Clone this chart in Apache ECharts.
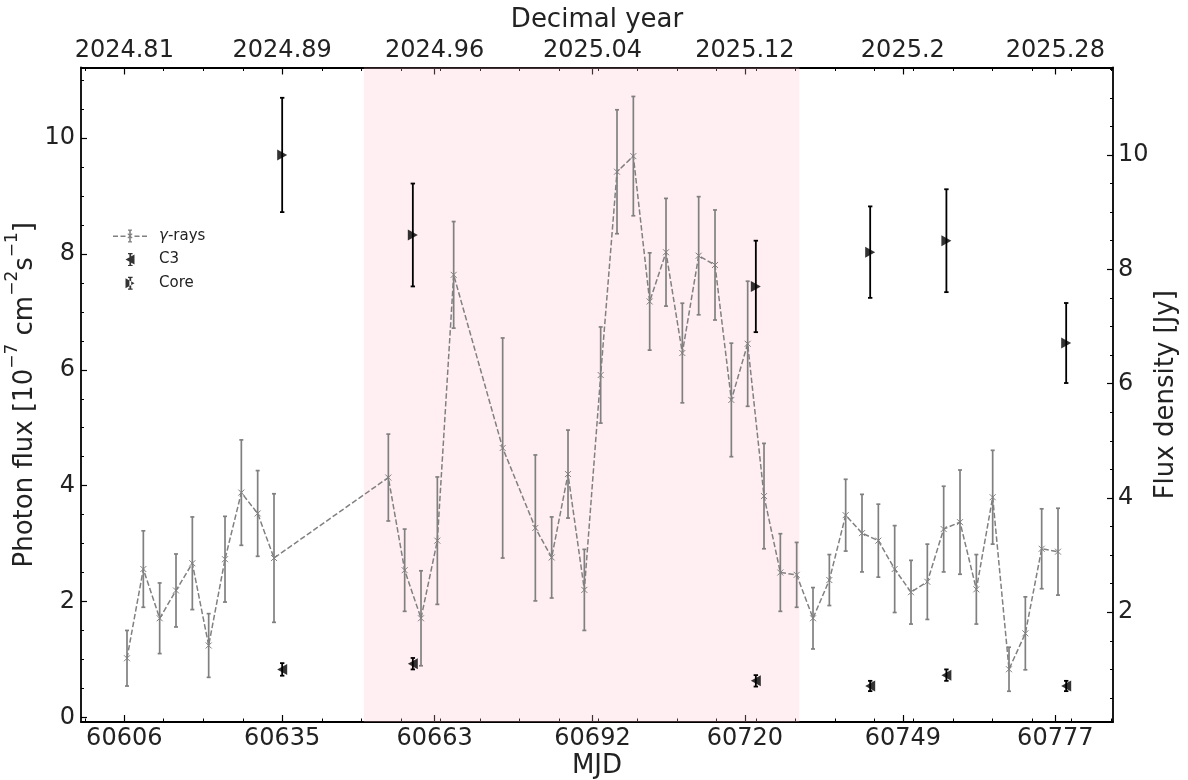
<!DOCTYPE html>
<html>
<head>
<meta charset="utf-8">
<script src="https://cdn.jsdelivr.net/npm/echarts@6/dist/echarts.min.js"></script>
<style>
  html, body { margin: 0; padding: 0; background: #fff; }
  #chart { width: 1188px; height: 780px; }
</style>
</head>
<body>
<div id="chart"></div>
<script>
// ---------------- data ----------------
// gamma-ray light curve (MJD, photon flux 1e-7 cm^-2 s^-1, symmetric error)
const gammaMJD = [60606.5, 60609.5, 60612.5, 60615.5, 60618.5, 60621.5, 60624.5, 60627.5, 60630.5, 60633.5,
  60654.5, 60657.5, 60660.5, 60663.5, 60666.5, 60675.5,
  60681.5, 60684.5, 60687.5, 60690.5, 60693.5, 60696.5, 60699.5, 60702.5, 60705.5, 60708.5,
  60711.5, 60714.5, 60717.5, 60720.5, 60723.5, 60726.5, 60729.5, 60732.5, 60735.5, 60738.5,
  60741.5, 60744.5, 60747.5, 60750.5, 60753.5, 60756.5, 60759.5, 60762.5, 60765.5, 60768.5,
  60771.5, 60774.5, 60777.5];
const gammaFlux = [1.02, 2.56, 1.71, 2.19, 2.66, 1.24, 2.73, 3.88, 3.52, 2.75,
  4.14, 2.54, 1.71, 3.05, 7.64, 4.65,
  3.27, 2.76, 4.20, 2.20, 5.91, 9.42, 9.69, 7.18, 8.03, 6.29,
  7.97, 7.81, 5.48, 6.45, 3.82, 2.50, 2.46, 1.71, 2.37, 3.49,
  3.18, 3.05, 2.56, 2.16, 2.34, 3.25, 3.37, 2.21, 3.80, 0.83,
  1.45, 2.91, 2.86];
const gammaErr = [0.48, 0.66, 0.61, 0.63, 0.80, 0.55, 0.74, 0.91, 0.74, 1.11,
  0.75, 0.71, 0.82, 1.10, 0.92, 1.90,
  1.26, 0.70, 0.76, 0.70, 0.83, 1.07, 1.03, 0.84, 0.93, 0.86,
  1.02, 0.95, 0.98, 1.08, 0.91, 0.67, 0.56, 0.53, 0.44, 0.62,
  0.67, 0.63, 0.75, 0.55, 0.65, 0.74, 0.90, 0.60, 0.81, 0.38,
  0.63, 0.69, 0.75];

// radio (VLBI) epochs and flux densities [Jy]
const radioMJD = [60635.0, 60659.0, 60722.0, 60743.0, 60757.0, 60779.0];
const c3Flux = [1.00, 1.10, 0.80, 0.71, 0.90, 0.71];
const c3Err = [0.11, 0.10, 0.10, 0.09, 0.10, 0.09];
const coreFlux = [10.0, 8.60, 7.70, 8.30, 8.50, 6.71];
const coreErr = [1.0, 0.9, 0.8, 0.8, 0.9, 0.7];

// shaded flare window (MJD)
const flareWindow = [60650, 60730];

// ticks
const mjdMajor = [60606, 60635, 60663, 60692, 60720, 60749, 60777];
const decYearLabels = ['2024.81', '2024.89', '2024.96', '2025.04', '2025.12', '2025.2', '2025.28'];
const mjdMinor = [60598.8, 60606.0, 60613.2, 60620.5, 60627.8, 60635.0, 60642.3, 60649.5, 60656.8,
  60664.0, 60671.3, 60678.5, 60685.8, 60693.0, 60700.3, 60707.5, 60714.8, 60722.0, 60729.3,
  60736.5, 60743.8, 60751.0, 60758.3, 60765.5, 60772.8, 60780.0, 60787.3];
const photonMajor = [0, 2, 4, 6, 8, 10];
const photonMinor = [0, 0.5, 1, 1.5, 2, 2.5, 3, 3.5, 4, 4.5, 5, 5.5, 6, 6.5, 7, 7.5, 8, 8.5, 9, 9.5, 10, 10.5, 11];
const jyMajor = [2, 4, 6, 8, 10];
const jyMinor = [0.5, 1, 1.5, 2, 2.5, 3, 3.5, 4, 4.5, 5, 5.5, 6, 6.5, 7, 7.5, 8, 8.5, 9, 9.5, 10, 10.5, 11, 11.5];

// ---------------- chart ----------------
const FONT = 'DejaVu Sans';
const TXT = '#222';
const GRAY = '#808080';
const X_MIN = 60598.05, X_MAX = 60787.6;
const YL_MIN = -0.081, YL_MAX = 11.22;
const YR_MIN = 0.080, YR_MAX = 11.53;

function tickAxis(extra) {
  return Object.assign({
    type: 'value',
    splitLine: { show: false },
    axisLine: { show: false, onZero: false },
    axisLabel: { show: false },
    nameMoveOverlap: false
  }, extra);
}

const axisLineStyle = { show: true, onZero: false, lineStyle: { color: '#000', width: 1.8 } };
const majorTick = (vals, len) => ({ show: true, inside: true, length: len, customValues: vals, lineStyle: { color: '#000', width: 1.2 } });
const minorTick = (vals, len) => ({ show: true, inside: true, length: len, customValues: vals, lineStyle: { color: '#000', width: 1 } });
const labelBase = { show: true, color: TXT, fontSize: 24, fontFamily: FONT };

const xAxes = [
  tickAxis({
    position: 'bottom', min: X_MIN, max: X_MAX,
    axisLine: axisLineStyle,
    axisTick: majorTick(mjdMajor, 7),
    axisLabel: Object.assign({}, labelBase, { customValues: mjdMajor, margin: 5, formatter: v => String(Math.round(v)) }),
    name: 'MJD', nameLocation: 'middle', nameGap: 31,
    nameTextStyle: { fontSize: 26, color: TXT, fontFamily: FONT }
  }),
  tickAxis({ position: 'bottom', min: X_MIN, max: X_MAX, axisTick: minorTick(mjdMinor, 3.5) }),
  tickAxis({
    position: 'top', min: X_MIN, max: X_MAX,
    axisLine: axisLineStyle,
    axisTick: majorTick(mjdMajor, 7),
    axisLabel: Object.assign({}, labelBase, {
      customValues: mjdMajor, margin: 5,
      formatter: v => decYearLabels[mjdMajor.indexOf(v)]
    }),
    name: 'Decimal year', nameLocation: 'middle', nameGap: 34,
    nameTextStyle: { fontSize: 26, color: TXT, fontFamily: FONT }
  }),
  tickAxis({ position: 'top', min: X_MIN, max: X_MAX, axisTick: minorTick(mjdMinor, 3.5) })
];

const yAxes = [
  tickAxis({
    position: 'left', min: YL_MIN, max: YL_MAX,
    axisLine: axisLineStyle,
    axisTick: majorTick(photonMajor, 6),
    axisLabel: Object.assign({}, labelBase, { customValues: photonMajor, margin: 6, formatter: v => String(v) }),
    name: '{n|Photon flux [10}{s|−7}{n| cm}{s|−2}{n|s}{s|−1}{n|]}',
    nameLocation: 'middle', nameRotate: 90, nameGap: 43,
    nameTextStyle: {
      fontSize: 26, color: TXT, fontFamily: FONT,
      rich: {
        n: { fontSize: 26, fontFamily: FONT, color: TXT, lineHeight: 34, verticalAlign: 'bottom' },
        s: { fontSize: 17, fontFamily: FONT, color: TXT, lineHeight: 17, verticalAlign: 'top' }
      }
    }
  }),
  tickAxis({ position: 'left', min: YL_MIN, max: YL_MAX, axisTick: minorTick(photonMinor, 3) }),
  tickAxis({
    position: 'right', min: YR_MIN, max: YR_MAX,
    axisLine: axisLineStyle,
    axisTick: majorTick(jyMajor, 6),
    axisLabel: Object.assign({}, labelBase, { customValues: jyMajor, margin: 5, formatter: v => String(v) }),
    name: 'Flux density [Jy]', nameLocation: 'middle', nameRotate: 90, nameGap: 40,
    nameTextStyle: { fontSize: 26, color: TXT, fontFamily: FONT }
  }),
  tickAxis({ position: 'right', min: YR_MIN, max: YR_MAX, axisTick: minorTick(jyMinor, 3) })
];

function errorBarSeries(name, xs, ys, es, yAxisIndex, color, width, halfCap, z) {
  return {
    type: 'custom', name: name, xAxisIndex: 0, yAxisIndex: yAxisIndex, z: z, silent: true,
    data: xs.map((x, i) => [x, ys[i] - es[i], ys[i] + es[i]]),
    encode: { x: 0, y: [1, 2] },
    renderItem: function (params, api) {
      const x = api.value(0);
      const lo = api.coord([x, api.value(1)]);
      const hi = api.coord([x, api.value(2)]);
      const st = { stroke: color, lineWidth: width };
      return {
        type: 'group',
        children: [
          { type: 'line', shape: { x1: lo[0], y1: lo[1], x2: hi[0], y2: hi[1] }, style: st },
          { type: 'line', shape: { x1: lo[0] - halfCap, y1: lo[1], x2: lo[0] + halfCap, y2: lo[1] }, style: st },
          { type: 'line', shape: { x1: hi[0] - halfCap, y1: hi[1], x2: hi[0] + halfCap, y2: hi[1] }, style: st }
        ]
      };
    }
  };
}

const gammaIcon = 'path://M0,6h5v1.5h-5Z M7.5,6h5v1.5h-5Z M21.5,6h5v1.5h-5Z M29,6h5v1.5h-5Z M16.2,0h1.6v13h-1.6Z M15,0h4v1.2h-4Z M15,11.8h4v1.2h-4Z M14.4,4.6L15.2,3.8L19.6,8.2L18.8,9Z M18.8,3.8L19.6,4.6L15.2,9L14.4,8.2Z';
const c3Icon = 'path://M1,6.5L10,1.5L10,11.5Z M4.9,0h1.8v13h-1.8Z M3.5,0h4.6v1.2h-4.6Z M3.5,11.8h4.6v1.2h-4.6Z';
const coreIcon = 'path://M10.6,6.5L1.6,1.5L1.6,11.5Z M5.5,0h1.8v13h-1.8Z M4.1,0h4.6v1.2h-4.6Z M4.1,11.8h4.6v1.2h-4.6Z';

const option = {
  animation: false,
  backgroundColor: '#fff',
  textStyle: { fontFamily: FONT },
  grid: { left: 81, right: 75, top: 67.5, bottom: 58, outerBoundsMode: 'none', containLabel: false },
  xAxis: xAxes,
  yAxis: yAxes,
  legend: {
    left: 108, top: 223.5, orient: 'vertical',
    itemWidth: 48, itemHeight: 13, itemGap: 8.6,
    symbolKeepAspect: true, selectedMode: false,
    textStyle: {
      fontSize: 15, color: TXT, fontFamily: FONT,
      rich: { it: { fontSize: 15, fontStyle: 'italic', color: TXT, fontFamily: FONT } }
    },
    formatter: n => (n === 'γ-rays' ? '{it|γ}-rays' : n),
    data: [
      { name: 'γ-rays', icon: gammaIcon, itemStyle: { color: GRAY, borderWidth: 0 } },
      { name: 'C3', icon: c3Icon, itemStyle: { color: '#000', borderWidth: 0 } },
      { name: 'Core', icon: coreIcon, itemStyle: { color: '#000', borderWidth: 0 } }
    ]
  },
  series: [
    {
      type: 'line', name: 'flare', data: [], z: 0, silent: true,
      markArea: {
        silent: true,
        itemStyle: { color: 'rgba(255,192,203,0.25)' },
        data: [[{ xAxis: flareWindow[0] }, { xAxis: flareWindow[1] }]]
      }
    },
    {
      type: 'line', name: 'γ-rays', xAxisIndex: 0, yAxisIndex: 0, z: 3,
      data: gammaMJD.map((x, i) => [x, gammaFlux[i]]),
      symbol: 'path://M0,0L10,10M10,0L0,10', symbolSize: 6,
      itemStyle: { color: GRAY, borderColor: GRAY, borderWidth: 1 },
      lineStyle: { color: GRAY, width: 1.5, type: [5.5, 2.4] },
      emphasis: { disabled: true }, silent: true
    },
    errorBarSeries('gammaErr', gammaMJD, gammaFlux, gammaErr, 0, GRAY, 1.7, 2, 4),
    errorBarSeries('c3Err', radioMJD, c3Flux, c3Err, 2, '#000', 1.8, 2.2, 5),
    errorBarSeries('coreErr', radioMJD, coreFlux, coreErr, 2, '#000', 1.8, 2.2, 5),
    {
      type: 'scatter', name: 'C3', xAxisIndex: 0, yAxisIndex: 2, z: 6,
      data: radioMJD.map((x, i) => [x, c3Flux[i]]),
      symbol: 'path://M0,5L10,0L10,10Z', symbolSize: [10, 11],
      itemStyle: { color: '#000' }, emphasis: { disabled: true }, silent: true
    },
    {
      type: 'scatter', name: 'Core', xAxisIndex: 0, yAxisIndex: 2, z: 6,
      data: radioMJD.map((x, i) => [x, coreFlux[i]]),
      symbol: 'path://M10,5L0,0L0,10Z', symbolSize: [10, 11],
      itemStyle: { color: '#000' }, emphasis: { disabled: true }, silent: true
    }
  ]
};

const chart = echarts.init(document.getElementById('chart'), null, { renderer: 'canvas' });
chart.setOption(option);
</script>
</body>
</html>
